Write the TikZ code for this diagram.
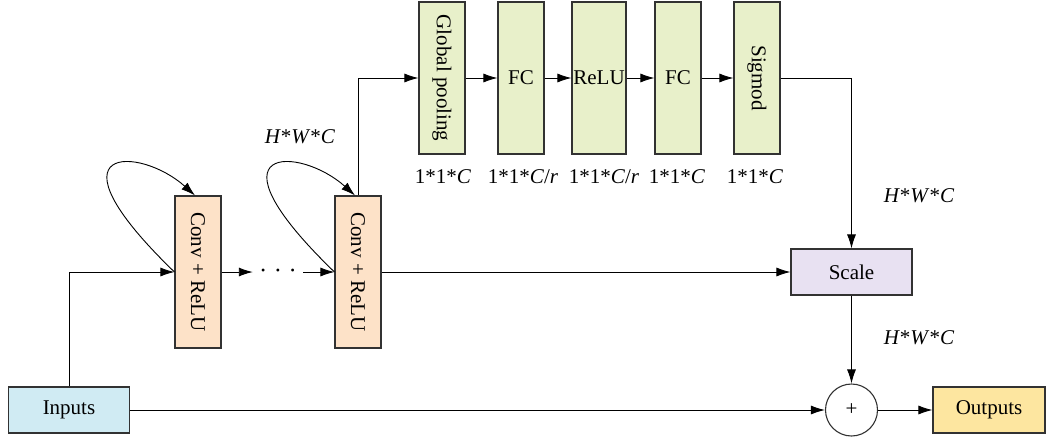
\documentclass[tikz,border=0pt]{standalone}
\usepackage{fontspec}
\setmainfont{Liberation Serif}
\usetikzlibrary{arrows.meta}
\definecolor{peach}{RGB}{253,226,200}
\definecolor{pale}{RGB}{232,240,202}
\definecolor{lilac}{RGB}{232,225,242}
\definecolor{sky}{RGB}{208,235,243}
\definecolor{sand}{RGB}{253,230,160}
\definecolor{edge}{RGB}{50,50,50}
\begin{document}
\begin{tikzpicture}[x=1pt,y=-1pt,font=\fontsize{21}{24}\selectfont,
box/.style ={draw=edge, line width=1.1pt, inner sep=0pt},
tall/.style ={box, minimum width=46, minimum height=152},
wide/.style ={box, minimum width=121, minimum height=46},
arr/.style ={-{Latex[length=14pt,width=9pt]}, line width=0.9pt},
lbl/.style ={inner sep=1pt}]
\useasboundingbox (0,0) rectangle (1046,439);

%residual part
\node[wide, fill=sky] at (69,410) (in){Inputs};
\node[tall, fill=peach] at (198,272) (c1){\rotatebox{-90}{Conv + ReLU}};
\node[minimum width=50, inner sep=0pt, font=\fontsize{12}{12}\selectfont] at (278,272) (dt){\textbullet\hspace{10.5pt}\textbullet\hspace{10.5pt}\textbullet};
\node[tall, fill=peach] at (358,272) (c2){\rotatebox{-90}{Conv + ReLU}};

%squeeze and excitation
\node[tall, fill=pale] at (442,78) (gp){\rotatebox{-90}{Global pooling}};
\node[tall, fill=pale] at (521,78) (fc1){FC};
\node[tall, fill=pale, minimum width=54] at (599,78) (re){ReLU};
\node[tall, fill=pale] at (678,78) (fc2){FC};
\node[tall, fill=pale] at (757,78) (sg){\rotatebox{-90}{Sigmod}};

%scale, sum and output
\node[wide, fill=lilac] at (851.5,272) (sc){Scale};
\node[draw=edge, line width=1.1pt, circle, minimum size=52, inner sep=0pt] at (851.5,410) (ad){+};
\node[box, fill=sand, minimum width=112, minimum height=46] at (989,410) (out){Outputs};

%connectors
\draw[arr] (in.north) |- (c1.west);
\draw[arr] (c1.west) .. controls (40,142) and (140,146) .. ([xshift=-3]c1.north);
\draw[arr] (c1.east) -- (dt.west);
\draw[arr] (dt.east) -- (c2.west);
\draw[arr] (c2.west) .. controls (200,142) and (300,146) .. ([xshift=-3]c2.north);
\draw[arr] (c2.north) |- (gp.west);
\draw[arr] (gp) -- (fc1);
\draw[arr] (fc1) -- (re);
\draw[arr] (re) -- (fc2);
\draw[arr] (fc2) -- (sg);
\draw[arr] (sg.east) -| (sc.north);
\draw[arr] (c2.east) -- (sc.west);
\draw[arr] (sc.south) -- (ad.north);
\draw[arr] (in.east) -- (ad.west);
\draw[arr] (ad.east) -- (out.west);

%sizes
\node[lbl] at (300,137) (s0){\textit{H}*\textit{W}*\textit{C}};
\node[lbl] at (443,177) (s1){1*1*\textit{C}};
\node[lbl] at (523,177) (s2){1*1*\textit{C}/\textit{r}};
\node[lbl] at (604,177) (s3){1*1*\textit{C}/\textit{r}};
\node[lbl] at (677,177) (s4){1*1*\textit{C}};
\node[lbl] at (755,177) (s5){1*1*\textit{C}};
\node[lbl] at (919,196) (s6){\textit{H}*\textit{W}*\textit{C}};
\node[lbl] at (919,338) (s7){\textit{H}*\textit{W}*\textit{C}};
\end{tikzpicture}
\end{document}
